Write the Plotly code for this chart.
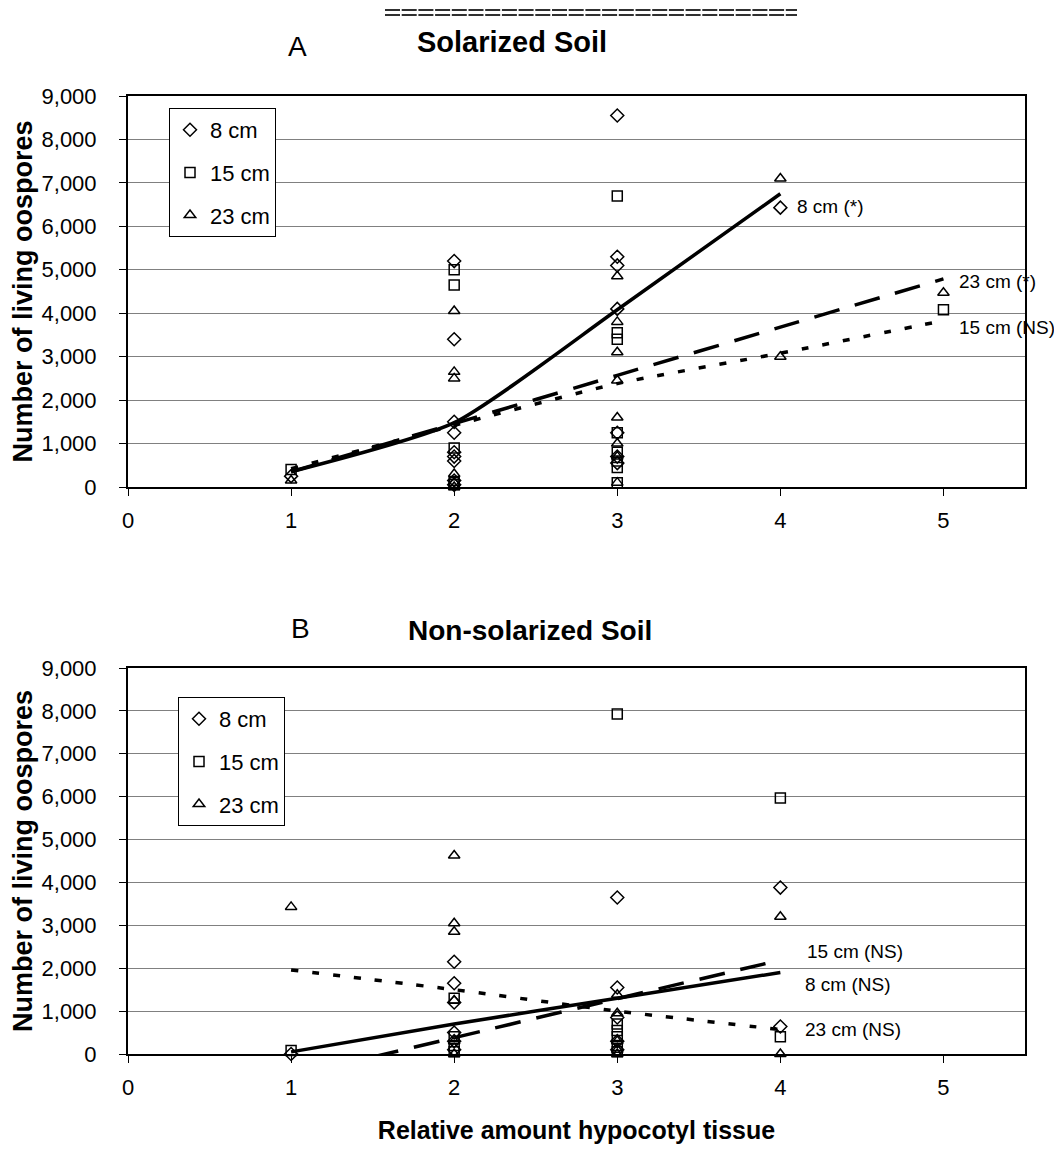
import plotly.graph_objects as go

# ---------------- Data: Panel A (Solarized Soil) ----------------
a8_x = [1, 2, 2, 2, 2, 2, 2, 2, 2, 2, 3, 3, 3, 3, 3, 3, 3, 4]
a8_y = [250, 5200, 3400, 1500, 1250, 800, 700, 600, 150, 50, 8550, 5300, 5100, 4100, 1250, 700, 550, 6430]

a15_x = [1, 2, 2, 2, 2, 2, 3, 3, 3, 3, 3, 3, 3, 3, 5]
a15_y = [400, 5000, 4650, 900, 100, 50, 6700, 3550, 3400, 1250, 800, 600, 450, 100, 4080]

a23_x = [1, 2, 2, 2, 2, 2, 2, 3, 3, 3, 3, 3, 3, 3, 3, 4, 4, 5]
a23_y = [150, 4050, 2650, 2500, 300, 100, 0, 4850, 3800, 3100, 2450, 1600, 1000, 700, 100, 7100, 3000, 4470]

# Trend lines
a8_trend_x = [1, 2, 3, 4]
a8_trend_y = [350, 1480, 4080, 6750]
a15_trend_x = [1, 2, 3, 4, 5]
a15_trend_y = [420, 1420, 2380, 3080, 3830]
a23_trend_x = [1, 2, 3, 4, 5]
a23_trend_y = [350, 1460, 2570, 3680, 4790]

# ---------------- Data: Panel B (Non-solarized Soil) ----------------
b8_x = [1, 2, 2, 2, 2, 2, 2, 3, 3, 3, 3, 3, 4, 4]
b8_y = [0, 2150, 1650, 1200, 500, 300, 100, 3650, 1550, 850, 300, 100, 3880, 640]

b15_x = [1, 2, 2, 2, 2, 3, 3, 3, 3, 3, 3, 4, 4]
b15_y = [80, 1300, 400, 200, 50, 7930, 700, 550, 400, 200, 50, 5970, 400]

b23_x = [1, 2, 2, 2, 2, 2, 2, 3, 3, 3, 3, 3, 4, 4]
b23_y = [3430, 4630, 3050, 2850, 1250, 300, 0, 1380, 950, 300, 100, 0, 3200, 0]

b8_trend_x = [1, 2, 3, 4]
b8_trend_y = [50, 700, 1300, 1900]
b15_trend_x = [1, 2, 3, 4]
b15_trend_y = [-520, 380, 1290, 2190]
b23_trend_x = [1, 2, 3, 4]
b23_trend_y = [1960, 1500, 1000, 570]

series_names = ["8 cm", "15 cm", "23 cm"]
x_ticks = [0, 1, 2, 3, 4, 5]

# ---------------- Figure ----------------
FONT = "Liberation Sans, Arial, sans-serif"
OFF = 8                      # default page body margin
PAGE_W, PAGE_H = 1062, 1151
W, H = PAGE_W - OFF, PAGE_H - OFF
PLOT_L, PLOT_R, PLOT_T, PLOT_B = 128, 1025, 96, 1054   # page pixels of plotting region
L, R, T, B = PLOT_L - OFF, PAGE_W - PLOT_R, PLOT_T - OFF, PAGE_H - PLOT_B
PW, PH = PLOT_R - PLOT_L, PLOT_B - PLOT_T


def px_to_paper(px, py):
    return (px - PLOT_L) / PW, (PLOT_B - py) / PH


fig = go.Figure()

symbols = ["diamond-open", "square-open", "triangle-up-open"]
marker_common = dict(size=10, color="black", line=dict(width=1.5, color="black"))

panelA = [(a8_x, a8_y), (a15_x, a15_y), (a23_x, a23_y)]
panelB = [(b8_x, b8_y), (b15_x, b15_y), (b23_x, b23_y)]

for i, (xs, ys) in enumerate(panelA):
    fig.add_trace(go.Scatter(
        x=xs, y=ys, mode="markers", name=series_names[i],
        marker=dict(symbol=symbols[i], **marker_common),
        xaxis="x", yaxis="y", legend="legend", legendgroup="A" + str(i),
        showlegend=True, cliponaxis=False))

for i, (xs, ys) in enumerate(panelB):
    fig.add_trace(go.Scatter(
        x=xs, y=ys, mode="markers", name=series_names[i],
        marker=dict(symbol=symbols[i], **marker_common),
        xaxis="x2", yaxis="y2", legend="legend2", legendgroup="B" + str(i),
        showlegend=True, cliponaxis=False))

LONG = "26px,16px"
SHORT = "7px,14px"

trendsA = [(a8_trend_x, a8_trend_y, "solid"), (a15_trend_x, a15_trend_y, SHORT),
           (a23_trend_x, a23_trend_y, LONG)]
trendsB = [(b8_trend_x, b8_trend_y, "solid"), (b15_trend_x, b15_trend_y, LONG),
           (b23_trend_x, b23_trend_y, SHORT)]

for xs, ys, d in trendsA:
    fig.add_trace(go.Scatter(x=xs, y=ys, mode="lines", showlegend=False, hoverinfo="skip",
                             line=dict(color="black", width=3.5, dash=d, shape="spline", smoothing=0.6),
                             xaxis="x", yaxis="y"))
for xs, ys, d in trendsB:
    fig.add_trace(go.Scatter(x=xs, y=ys, mode="lines", showlegend=False, hoverinfo="skip",
                             line=dict(color="black", width=3.5, dash=d, shape="spline", smoothing=0.6),
                             xaxis="x2", yaxis="y2"))

yA_bottom = (PLOT_B - 487) / PH
yB_top = (PLOT_B - 668) / PH

xaxis_common = dict(range=[0, 5.5], tickvals=x_ticks, ticks="outside", ticklen=7, tickwidth=1,
                    tickcolor="black", showline=True, linecolor="black", linewidth=2,
                    mirror=True, showgrid=False, zeroline=False, ticklabelstandoff=6,
                    automargin=False,
                    tickfont=dict(family=FONT, size=22, color="black"))
yaxis_common = dict(range=[0, 9000], dtick=1000, tickformat=",", ticks="outside", ticklen=7,
                    tickwidth=1, tickcolor="black", showline=True, linecolor="black",
                    linewidth=2, mirror=True, showgrid=True, gridcolor="#808080", gridwidth=1,
                    zeroline=False, ticklabelstandoff=18, automargin=False,
                    tickfont=dict(family=FONT, size=22, color="black"),
                    title=dict(text="<b>Number of living oospores</b>", standoff=8,
                               font=dict(family=FONT, size=27, color="black")))

legend_common = dict(xanchor="left", yanchor="top", bgcolor="white", bordercolor="black",
                     borderwidth=1, font=dict(family=FONT, size=22, color="black"),
                     traceorder="grouped", tracegroupgap=11, itemwidth=30)

lxA, lyA = px_to_paper(169, 108)
lxB, lyB = px_to_paper(178, 697)

fig.update_layout(
    width=W, height=H,
    margin=dict(l=L, r=R, t=T, b=B, autoexpand=False),
    paper_bgcolor="white", plot_bgcolor="white",
    xaxis=dict(anchor="y", domain=[0, 1], **xaxis_common),
    yaxis=dict(anchor="x", domain=[yA_bottom, 1], **yaxis_common),
    xaxis2=dict(anchor="y2", domain=[0, 1],
                title=dict(text="<b>Relative amount hypocotyl tissue</b>", standoff=22,
                           font=dict(family=FONT, size=25, color="black")),
                **xaxis_common),
    yaxis2=dict(anchor="x2", domain=[0, yB_top], **yaxis_common),
    legend=dict(x=lxA, y=lyA, **legend_common),
    legend2=dict(x=lxB, y=lyB, **legend_common),
    showlegend=True,
)

annotations = []


def add_label(text, px, py, size, bold=False, xanchor="center"):
    x, y = px_to_paper(px, py)
    annotations.append(dict(text=("<b>%s</b>" % text) if bold else text, x=x, y=y,
                            xref="paper", yref="paper", showarrow=False, xanchor=xanchor,
                            yanchor="middle", font=dict(family=FONT, size=size, color="black")))


add_label("A", 297, 47, 28)
add_label("Solarized Soil", 512, 42, 29, bold=True)
add_label("B", 300, 628, 28)
add_label("Non-solarized Soil", 530, 630, 28, bold=True)

# trend labels (data coordinates)
trend_labels = [
    ("8 cm (*)", 4.09, 6450, "x", "y"),
    ("23 cm (*)", 5.08, 4720, "x", "y"),
    ("15 cm (NS)", 5.085, 3660, "x", "y"),
    ("15 cm (NS)", 4.15, 2380, "x2", "y2"),
    ("8 cm (NS)", 4.14, 1610, "x2", "y2"),
    ("23 cm (NS)", 4.14, 560, "x2", "y2"),
]
for text, x, y, xr, yr in trend_labels:
    annotations.append(dict(text=text, x=x, y=y, xref=xr, yref=yr, showarrow=False,
                            xanchor="left", yanchor="middle",
                            font=dict(family=FONT, size=19, color="black")))

fig.update_layout(annotations=annotations)

# decorative double rule at the top
x0, _ = px_to_paper(385, 10)
x1, _ = px_to_paper(797, 10)
for py in (10, 15):
    _, yy = px_to_paper(0, py)
    fig.add_shape(type="line", xref="paper", yref="paper", x0=x0, x1=x1, y0=yy, y1=yy,
                  line=dict(color="#303030", width=2, dash="15px,1.7px"))

fig.write_html("out.html")
